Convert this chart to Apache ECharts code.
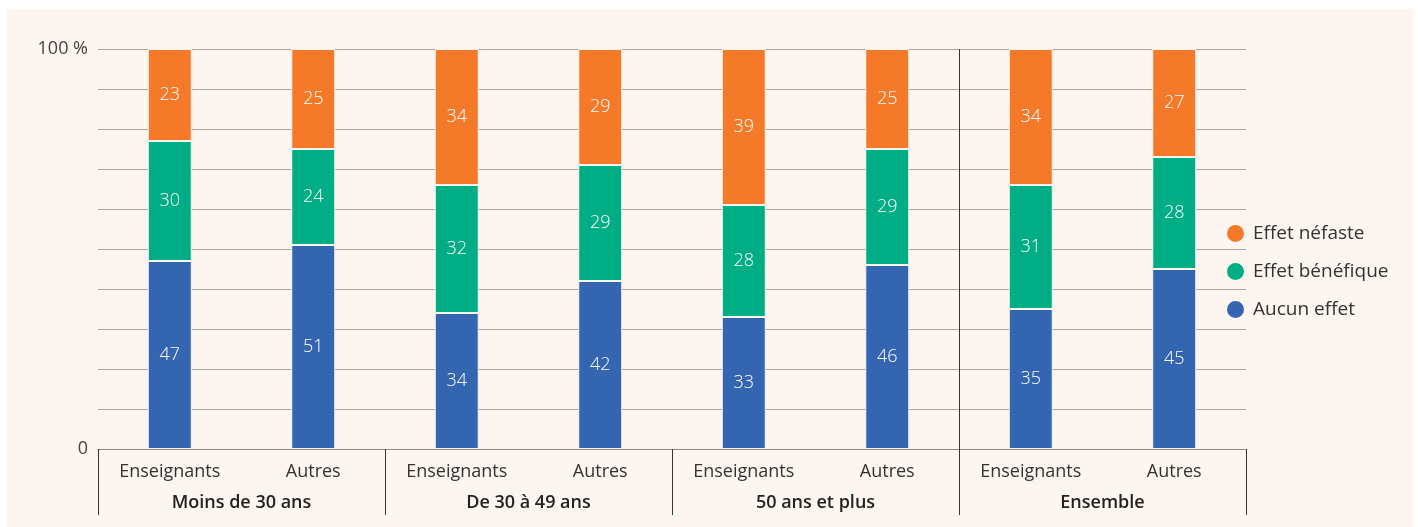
<!DOCTYPE html>
<html>
<head>
<meta charset="utf-8">
<script src="https://cdn.jsdelivr.net/npm/echarts@6/dist/echarts.min.js"></script>
<style>
  html, body { margin: 0; padding: 0; background: #ffffff; }
  #panel { position: absolute; left: 7px; top: 9px; width: 1406px; height: 518px; background: #fdf5f0; }
  #chart { position: absolute; left: 0; top: 0; width: 1418px; height: 527px; }
</style>
</head>
<body>
<div id="panel"></div>
<div id="chart"></div>
<script>
const categories = ['Enseignants', 'Autres', 'Enseignants', 'Autres', 'Enseignants', 'Autres', 'Enseignants', 'Autres'];
const groups = ['Moins de 30 ans', 'De 30 à 49 ans', '50 ans et plus', 'Ensemble'];
const aucunEffet = [47, 51, 34, 42, 33, 46, 35, 45];
const effetBenefique = [30, 24, 32, 29, 28, 29, 31, 28];
const effetNefaste = [23, 25, 34, 29, 39, 25, 34, 27];
const yTickLabels = { 0: '0', 100: '100 %' };

const FONT = 'Open Sans';
const chart = echarts.init(document.getElementById('chart'), null, { renderer: 'canvas' });

function barSeries(name, data, color) {
  return {
    name: name,
    type: 'bar',
    stack: 'total',
    data: data,
    barWidth: 44,
    itemStyle: { color: color, borderColor: '#fdf5f0', borderWidth: 1 },
    label: {
      show: true,
      position: 'inside',
      color: '#ffffff',
      fontFamily: FONT,
      fontWeight: 300,
      fontSize: 18
    }
  };
}

chart.setOption({
  animation: false,
  textStyle: { fontFamily: FONT },
  grid: { left: 98, right: 172, top: 49, bottom: 78, containLabel: false },
  legend: {
    orient: 'vertical',
    left: 1225,
    top: 223,
    padding: 0,
    itemGap: 17,
    itemWidth: 19,
    itemHeight: 19,
    icon: 'circle',
    data: ['Effet néfaste', 'Effet bénéfique', 'Aucun effet'],
    textStyle: { fontFamily: FONT, fontSize: 19, color: '#333333', padding: [0, 0, 0, 3] }
  },
  xAxis: [
    {
      type: 'category',
      data: categories,
      position: 'bottom',
      axisLine: { show: true, lineStyle: { color: '#8a8a8a', width: 1 } },
      axisTick: {
        show: true,
        length: 66,
        interval: function (index) { return index % 2 === 0; },
        lineStyle: { color: '#333333', width: 1 }
      },
      axisLabel: { fontFamily: FONT, fontSize: 18, color: '#333333', margin: 14, interval: 0 },
      splitLine: { show: false }
    },
    {
      type: 'category',
      data: groups,
      position: 'bottom',
      gridIndex: 0,
      axisLine: { show: false },
      axisTick: { show: false },
      axisLabel: { fontFamily: FONT, fontSize: 18, fontWeight: 600, color: '#222222', margin: 45, interval: 0 },
      splitLine: { show: false }
    }
  ],
  yAxis: {
    type: 'value',
    min: 0,
    max: 100,
    interval: 10,
    axisLine: { show: false },
    axisTick: { show: false },
    axisLabel: {
      fontFamily: FONT, fontSize: 18, color: '#444444', margin: 10,
      formatter: function (v) { return yTickLabels[v] !== undefined ? yTickLabels[v] : ''; }
    },
    splitLine: { show: true, lineStyle: { color: '#a6a6a6', width: 1 } }
  },
  series: [
    barSeries('Aucun effet', aucunEffet, '#3465b0'),
    barSeries('Effet bénéfique', effetBenefique, '#00ad85'),
    barSeries('Effet néfaste', effetNefaste, '#f47a2a')
  ]
});

// Full-height separator before the "Ensemble" group, computed through the axes
const xA = chart.convertToPixel({ xAxisIndex: 0 }, 5);
const xB = chart.convertToPixel({ xAxisIndex: 0 }, 6);
const xSep = Math.round((xA + xB) / 2) + 0.5;
const yTop = chart.convertToPixel({ yAxisIndex: 0 }, 100);
const yBot = chart.convertToPixel({ yAxisIndex: 0 }, 0) + 66;
chart.setOption({
  graphic: [{
    type: 'line',
    z: 100,
    shape: { x1: xSep, y1: yTop, x2: xSep, y2: yBot },
    style: { stroke: '#333333', lineWidth: 1 }
  }]
});
</script>
</body>
</html>
